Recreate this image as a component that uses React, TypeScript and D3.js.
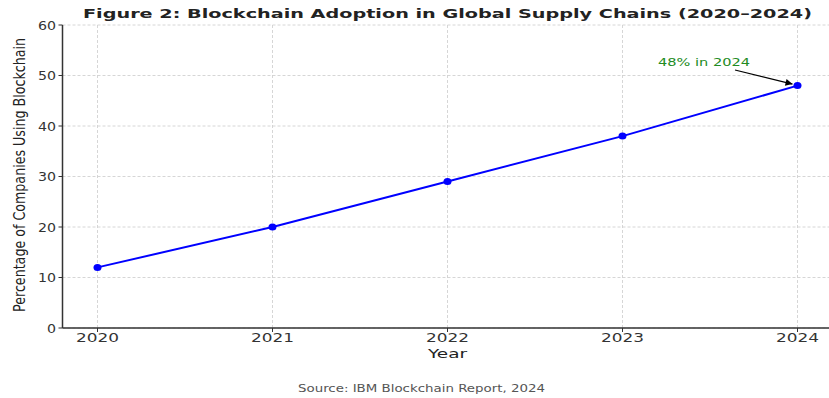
import React from "react";
import * as d3 from "d3";

const years = [2020, 2021, 2022, 2023, 2024];
const adoption = [12, 20, 29, 38, 48];
const yTicks = [0, 10, 20, 30, 40, 50, 60];
const titleText = "Figure 2: Blockchain Adoption in Global Supply Chains (2020–2024)";
const yLabel = "Percentage of Companies Using Blockchain";
const xLabel = "Year";
const sourceText = "Source: IBM Blockchain Report, 2024";
const annotationText = "48% in 2024";

const W = 829;
const H = 398;
const left = 62.5;
const top = 25;
const bottom = 328;
const FONT = "DejaVu Sans, sans-serif";

export default function App() {
  const x = d3.scaleLinear().domain([2019.8, 2024.2]).range([left, 832.5]);
  const y = d3.scaleLinear().domain([0, 60]).range([bottom, top]);
  const line = d3
    .line<number>()
    .x((_, i) => x(years[i]))
    .y((d) => y(d));
  const lastX = x(years[years.length - 1]);
  const lastY = y(adoption[adoption.length - 1]);

  return (
    <svg width={W} height={H} style={{ position: "absolute", left: 0, top: 0, background: "#fff" }}>
      <defs>
        <marker id="arr" viewBox="0 0 10 10" refX="10" refY="5" markerWidth="9" markerHeight="7" orient="auto" markerUnits="userSpaceOnUse">
          <path d="M0,0 L10,5 L0,10 z" fill="#000" />
        </marker>
      </defs>
      {/* grid */}
      {yTicks.map((t) => (
        <line key={"gy" + t} x1={left} x2={W} y1={y(t)} y2={y(t)} stroke="#cccccc" strokeWidth={0.8} strokeDasharray="3,2" />
      ))}
      {years.map((t) => (
        <line key={"gx" + t} x1={x(t)} x2={x(t)} y1={top} y2={bottom} stroke="#cccccc" strokeWidth={0.8} strokeDasharray="3,2" />
      ))}
      {/* spines */}
      <line x1={left} x2={left} y1={top} y2={bottom} stroke="#333" strokeWidth={1.5} />
      <line x1={left} x2={W} y1={bottom} y2={bottom} stroke="#333" strokeWidth={1.5} />
      {/* y ticks */}
      {yTicks.map((t) => (
        <g key={"yt" + t}>
          <line x1={left - 4} x2={left} y1={y(t)} y2={y(t)} stroke="#333" strokeWidth={1} />
          <text
            x={56}
            y={y(t)}
            textAnchor="end"
            dominantBaseline="central"
            fontFamily={FONT}
            fontSize={12.5}
            fill="#333"
            textLength={String(t).length * 9}
            lengthAdjust="spacingAndGlyphs"
          >
            {t}
          </text>
        </g>
      ))}
      {/* x ticks */}
      {years.map((t) => (
        <g key={"xt" + t}>
          <line x1={x(t)} x2={x(t)} y1={bottom} y2={bottom + 4} stroke="#333" strokeWidth={1} />
          <text
            x={x(t)}
            y={342}
            textAnchor="middle"
            fontFamily={FONT}
            fontSize={12.5}
            fill="#333"
            textLength={43}
            lengthAdjust="spacingAndGlyphs"
          >
            {t}
          </text>
        </g>
      ))}
      {/* data line */}
      <path d={line(adoption) || ""} fill="none" stroke="#0000ff" strokeWidth={2} />
      {adoption.map((v, i) => (
        <ellipse key={"p" + i} cx={x(years[i])} cy={y(v)} rx={4} ry={3.5} fill="#0000ff" />
      ))}
      {/* annotation */}
      <text x={658} y={66} fontFamily={FONT} fontSize={11} fill="#228b22" textLength={92} lengthAdjust="spacingAndGlyphs">
        {annotationText}
      </text>
      <line x1={735} y1={70} x2={lastX - 5} y2={lastY - 1.5} stroke="#000" strokeWidth={1.2} markerEnd="url(#arr)" />
      {/* title */}
      <text x={447.5} y={18} textAnchor="middle" fontFamily={FONT} fontWeight="bold" fontSize={12.5} fill="#222" textLength={729} lengthAdjust="spacingAndGlyphs">
        {titleText}
      </text>
      {/* axis labels */}
      <text
        transform="translate(19,175) scale(1.3,1) rotate(-90)"
        textAnchor="middle"
        dominantBaseline="central"
        fontFamily={FONT}
        fontSize={12}
        fill="#222"
        textLength={274}
        lengthAdjust="spacingAndGlyphs"
      >
        {yLabel}
      </text>
      <text x={447.5} y={357.5} textAnchor="middle" fontFamily={FONT} fontSize={12.5} fill="#222" textLength={39} lengthAdjust="spacingAndGlyphs">
        {xLabel}
      </text>
      <text x={421.5} y={392} textAnchor="middle" fontFamily={FONT} fontSize={10} fill="#555" textLength={247} lengthAdjust="spacingAndGlyphs">
        {sourceText}
      </text>
    </svg>
  );
}
